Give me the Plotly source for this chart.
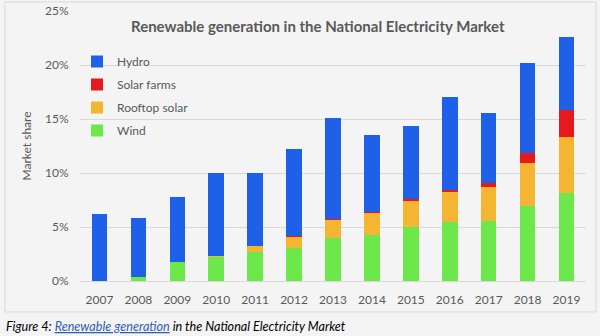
import plotly.graph_objects as go

years = ["2007", "2008", "2009", "2010", "2011", "2012", "2013",
         "2014", "2015", "2016", "2017", "2018", "2019"]
wind = [0.0, 0.4, 1.8, 2.25, 2.7, 3.1, 3.95, 4.26, 4.97, 5.46, 5.58, 6.97, 8.18]
rooftop = [0.0, 0.0, 0.0, 0.05, 0.55, 1.0, 1.7, 2.05, 2.47, 2.75, 3.15, 3.98, 5.18]
solar_farms = [0.0, 0.0, 0.0, 0.0, 0.0, 0.05, 0.1, 0.1, 0.15, 0.2, 0.3, 0.93, 2.47]
hydro = [6.2, 5.45, 6.0, 7.7, 6.75, 8.05, 9.35, 7.1, 6.75, 8.6, 6.55, 8.3, 6.73]
y_ticks = [0, 5, 10, 15, 20, 25]
y_tick_text = ["0%", "5%", "10%", "15%", "20%", "25%"]

series = [
    ("Wind", wind, "#6de84b"),
    ("Rooftop solar", rooftop, "#f3b532"),
    ("Solar farms", solar_farms, "#e8191d"),
    ("Hydro", hydro, "#1f60e8"),
]

FONT = "Lato, 'Open Sans', sans-serif"
GRAY = "#595959"

fig = go.Figure()
for i, (name, vals, col) in enumerate(series):
    fig.add_trace(go.Bar(x=years, y=vals, name=name, marker=dict(color=col, line=dict(width=0)),
                         legendgroup=name, legendrank=1000 - i))

W, H = 600, 336
L, R, T, B = 80, 14, 11, 55
pw, ph = W - L - R, H - T - B

def px(x):
    return (x - L) / pw

def py(y):
    return (H - B - y) / ph

fig.update_layout(
    width=W, height=H,
    margin=dict(l=L, r=R, t=T, b=B),
    barmode="stack",
    bargap=0.6,
    paper_bgcolor="#f4f4f4",
    plot_bgcolor="#f4f4f4",
    font=dict(family=FONT, size=12, color=GRAY),
    legend=dict(x=px(77), y=py(47), xanchor="left", yanchor="top",
                traceorder="grouped", tracegroupgap=4,
                bgcolor="rgba(0,0,0,0)", font=dict(size=12, color=GRAY),
                itemwidth=30),
    showlegend=True,
)

fig.update_yaxes(range=[0, 25], tickvals=y_ticks, ticktext=y_tick_text,
                 showgrid=True, gridcolor="#d9d9d9", gridwidth=1, automargin=False,
                 zeroline=False, ticks="outside", ticklen=8, tickcolor="rgba(0,0,0,0)",
                 tickfont=dict(size=12, color=GRAY),
                 title=dict(text="Market share", font=dict(size=12, color=GRAY), standoff=10))
fig.update_xaxes(showgrid=False, showline=True, linecolor="#d9d9d9", linewidth=1,
                 automargin=False,
                 ticks="outside", ticklen=8, tickcolor="rgba(0,0,0,0)",
                 tickfont=dict(size=12, color=GRAY))

# chart box border
fig.add_shape(type="rect", xref="paper", yref="paper",
              x0=px(5), x1=px(596), y0=py(312), y1=py(2),
              line=dict(color="#d9d9d9", width=1), fillcolor="rgba(0,0,0,0)", layer="below")

fig.add_annotation(text="<b>Renewable generation in the National Electricity Market</b>",
                   xref="paper", yref="paper", x=px(318), y=py(26),
                   xanchor="center", yanchor="middle", showarrow=False,
                   font=dict(size=15, color="#595959", family=FONT))

fig.add_annotation(
    text="<i>Figure 4: <span style='color:#2f5fb3'><u>Renewable generation</u></span> in the National Electricity Market</i>",
    xref="paper", yref="paper", x=px(4), y=py(326),
    xanchor="left", yanchor="middle", showarrow=False,
    font=dict(size=12.6, color="#000000", family=FONT))

fig.write_html("out.html")
